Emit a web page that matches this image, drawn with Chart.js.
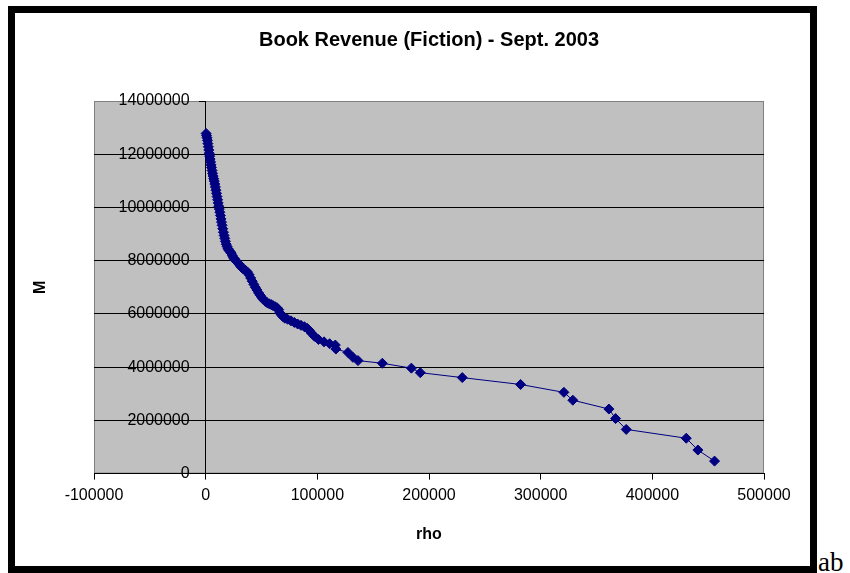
<!DOCTYPE html>
<html>
<head>
<meta charset="utf-8">
<title>Book Revenue (Fiction) - Sept. 2003</title>
<script src="https://cdn.jsdelivr.net/npm/chart.js@4.4.1/dist/chart.umd.min.js"></script>
<style>
  html, body { margin: 0; padding: 0; background: #fff; }
  #frame {
    position: absolute; left: 8px; top: 6px;
    width: 795px; height: 553px;
    border: 7px solid #000; background: #fff;
  }
  #holder { position: relative; width: 795px; height: 553px; }
  #ab {
    position: absolute; left: 818px; top: 549px;
    font: 27px/27px "Liberation Serif", "Times New Roman", serif; color: #000;
  }
</style>
</head>
<body>
<div id="frame"><div id="holder"><canvas id="chart"></canvas></div></div>
<div id="ab">ab</div>
<script>
// values: rho (x) and M (y)
const RHO = [
  400, 800, 1200, 1600, 2000, 2400, 2800, 3200, 3600, 4000,
  4400, 4800, 5200, 5700, 6200, 6700, 7200, 7700, 8200, 8700,
  9200, 9700, 10200, 10700, 11200, 11700, 12200, 12700, 13200, 13700,
  14200, 14700, 15300, 15900, 16500, 17100, 17700, 18400, 19200, 20000,
  20900, 21900, 22900, 23900, 24900, 25900, 27100, 28400, 29700, 30900,
  32200, 33400, 34700, 36100, 37500, 38900, 40300, 41700, 43100, 44500,
  45900, 47400, 48900, 50400, 51900, 53500, 55100, 56900, 58700, 60400,
  62200, 63900, 65400, 66400, 67700, 69100, 70900, 73400, 76400, 79400,
  82400, 85400, 88400, 90900, 92900, 94900, 97400, 101000, 106000, 111000,
  116100, 116600, 127400, 131900, 136400, 158200, 184200, 192200, 229800, 282000,
  320800, 328800, 361100, 367100, 376600, 430400, 440800, 455700
];
const M = [
  12780000, 12700000, 12620000, 12520000, 12400000, 12280000, 12160000, 12040000, 11930000, 11820000,
  11710000, 11600000, 11500000, 11390000, 11280000, 11180000, 11080000, 10990000, 10880000, 10770000,
  10650000, 10530000, 10410000, 10290000, 10170000, 10050000, 9940000, 9820000, 9700000, 9570000,
  9450000, 9330000, 9200000, 9070000, 8950000, 8840000, 8730000, 8620000, 8530000, 8450000,
  8390000, 8340000, 8280000, 8190000, 8110000, 8060000, 8000000, 7940000, 7880000, 7810000,
  7750000, 7700000, 7660000, 7620000, 7570000, 7470000, 7350000, 7230000, 7110000, 7000000,
  6900000, 6790000, 6700000, 6610000, 6530000, 6470000, 6420000, 6380000, 6350000, 6310000,
  6270000, 6230000, 6160000, 6040000, 5970000, 5900000, 5840000, 5800000, 5740000, 5680000,
  5620000, 5570000, 5520000, 5460000, 5380000, 5270000, 5160000, 5040000, 4950000, 4880000,
  4830000, 4680000, 4552000, 4368000, 4246000, 4146000, 3962000, 3792000, 3607000, 3349000,
  3053000, 2758000, 2426000, 2068000, 1661000, 1329000, 886000, 469000
];

const X_TICKS = { min: -100000, max: 500000, step: 100000 };
const Y_TICKS = { min: 0, max: 14000000, step: 2000000 };

const TITLE = 'Book Revenue (Fiction) - Sept. 2003';
const X_LABEL = 'rho';
const Y_LABEL = 'M';

const FONT = '"Liberation Sans", Arial, sans-serif';
const SERIES_COLOR = '#000080';

// gray plot area like the old spreadsheet charts
const plotBackground = {
  id: 'plotBackground',
  beforeDraw(chart) {
    const { ctx, chartArea: a } = chart;
    ctx.save();
    ctx.fillStyle = '#c0c0c0';
    ctx.fillRect(a.left, a.top, a.width, a.height);
    ctx.strokeStyle = '#808080';
    ctx.lineWidth = 1;
    ctx.strokeRect(a.left + 0.5, a.top + 0.5, a.width - 1, a.height - 1);
    ctx.restore();
  }
};

// the y title sits far left, not next to the crossing axis
const yAxisTitle = {
  id: 'yAxisTitle',
  afterDraw(chart) {
    const { ctx, chartArea: a } = chart;
    ctx.save();
    ctx.translate(26, (a.top + a.bottom) / 2);
    ctx.rotate(-Math.PI / 2);
    ctx.font = 'bold 16px ' + FONT;
    ctx.fillStyle = '#000';
    ctx.textAlign = 'center';
    ctx.textBaseline = 'middle';
    ctx.fillText(Y_LABEL, 0, 0);
    ctx.restore();
  }
};

const points = RHO.map((r, i) => ({ x: r, y: M[i] }));

new Chart(document.getElementById('chart'), {
  type: 'scatter',
  data: {
    datasets: [{
      data: points,
      showLine: true,
      borderColor: SERIES_COLOR,
      borderWidth: 1,
      backgroundColor: SERIES_COLOR,
      pointBorderColor: SERIES_COLOR,
      pointStyle: 'rectRot',
      pointRadius: 5,
      pointBorderWidth: 1
    }]
  },
  options: {
    responsive: true,
    maintainAspectRatio: false,
    animation: false,
    layout: { padding: { left: 79, right: 46, top: 3, bottom: 22 } },
    plugins: {
      legend: { display: false },
      tooltip: { enabled: false },
      title: {
        display: true,
        text: TITLE,
        color: '#000',
        font: { family: FONT, size: 20, weight: 'bold' },
        padding: { top: 12, bottom: 49 }
      }
    },
    scales: {
      x: {
        type: 'linear',
        position: 'bottom',
        min: X_TICKS.min,
        max: X_TICKS.max,
        border: { color: '#000', width: 1 },
        grid: { drawOnChartArea: false, tickLength: 6, tickColor: '#000' },
        ticks: {
          stepSize: X_TICKS.step,
          padding: 6,
          color: '#000',
          maxRotation: 0,
          font: { family: FONT, size: 16 },
          callback: v => String(v)
        },
        title: {
          display: true,
          text: X_LABEL,
          color: '#000',
          font: { family: FONT, size: 16, weight: 'bold' },
          padding: { top: 14, bottom: 0 }
        }
      },
      y: {
        type: 'linear',
        position: { x: 0 },
        min: Y_TICKS.min,
        max: Y_TICKS.max,
        border: { color: '#000', width: 1 },
        grid: {
          color: c => (c.tick && c.tick.value === Y_TICKS.max) ? 'rgba(0,0,0,0)' : '#000',
          tickColor: '#000',
          tickLength: 6
        },
        ticks: {
          stepSize: Y_TICKS.step,
          color: '#000',
          font: { family: FONT, size: 16 },
          // labels of a crossing axis get no padding, so two en spaces keep them off the line
          callback: v => String(v) + '\u2002\u2002'
        }
      }
    }
  },
  plugins: [plotBackground, yAxisTitle]
});
</script>
</body>
</html>
